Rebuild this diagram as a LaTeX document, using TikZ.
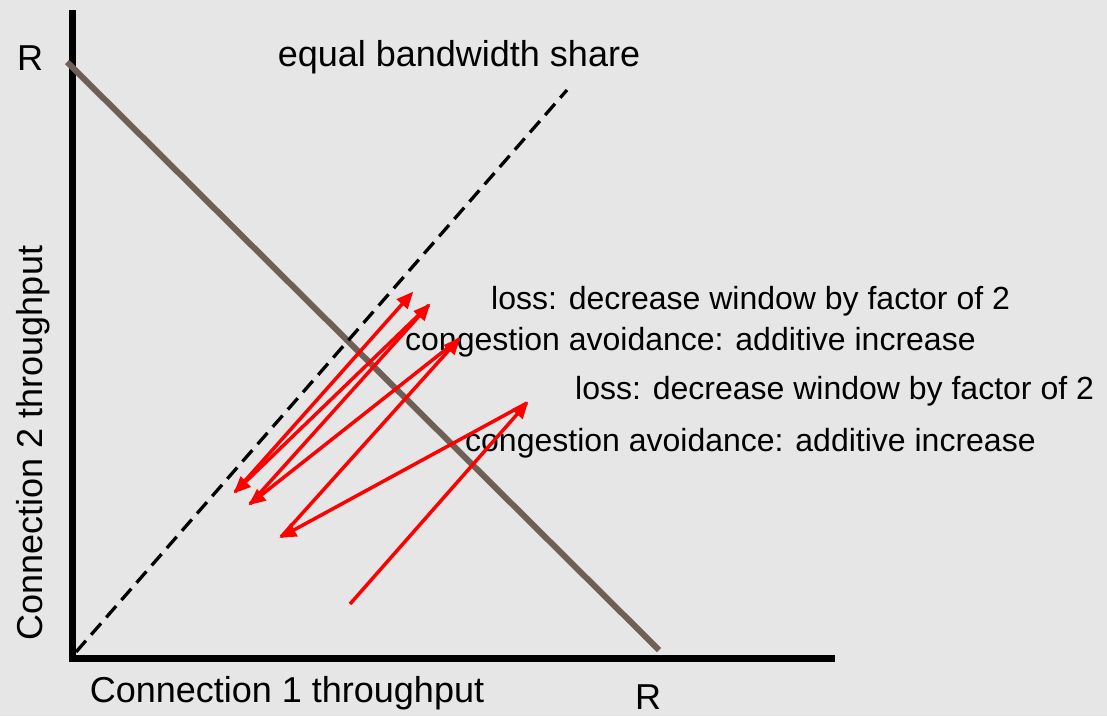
\documentclass[tikz,border=0pt]{standalone}
\usepackage{fontspec}
\setmainfont{Liberation Sans}
\usetikzlibrary{arrows.meta}
\definecolor{bgcol}{RGB}{230,230,230}
\definecolor{brownline}{RGB}{110,96,86}
\definecolor{redarrow}{RGB}{255,0,0}
\tikzset{
  lbl/.style={inner sep=0pt, font=\fontsize{32}{38}\selectfont},
  biglbl/.style={inner sep=0pt, font=\fontsize{36}{43}\selectfont},
  axisline/.style={line width=7pt, black},
  ratearrow/.style={redarrow, line width=3.5pt, -{Triangle[length=17pt,width=14pt]}, shorten >=-2pt}
}
\begin{document}
\begin{tikzpicture}[x=1pt,y=-1pt]
\fill[bgcol] (0,0) rectangle (1107,716);
\useasboundingbox (0,0) rectangle (1107,716);
% axes
\coordinate (ytop) at (72,10);
\coordinate (origin) at (72,658);
\coordinate (xend) at (835,658);
\draw[axisline] (ytop) -- (72,661.5);
\draw[axisline] (68.5,658) -- (xend);
% capacity line
\coordinate (capA) at (67,62);
\coordinate (capB) at (659,650);
\draw[brownline, line width=6pt] (capA) -- (capB);
% equal share
\coordinate (eqA) at (76,652);
\coordinate (eqB) at (567,90);
\draw[black, line width=3.3pt, dash pattern=on 15pt off 8pt] (eqA) -- (eqB);
% labels
\node[biglbl] (rY) at (30,58) {R};
\node[biglbl] (rX) at (648,697) {R};
\node[biglbl] (eqlbl) at (459,57) {equal bandwidth share};
\node[biglbl, rotate=90] (ylbl) at (33,443) {Connection 2 throughput};
\node[biglbl] (xlbl) at (287,693) {Connection 1 throughput};
\node[lbl, anchor=west] (loss1) at (491,301) {loss: decrease window by factor of 2};
\node[lbl, anchor=west] (ca1) at (405,342) {congestion avoidance: additive increase};
\node[lbl, anchor=west] (loss2) at (575,391) {loss: decrease window by factor of 2};
\node[lbl, anchor=west] (ca2) at (465,443) {congestion avoidance: additive increase};
% trajectory
\coordinate (p0) at (350,604);
\coordinate (p1) at (527,403);
\coordinate (p2) at (281,537);
\coordinate (p3) at (459,339);
\coordinate (p4) at (250,504);
\coordinate (p5) at (429,305);
\coordinate (p6) at (235,492);
\coordinate (p7) at (412,293);
\draw[ratearrow] (p0) -- (p1);
\draw[ratearrow] (p1) -- (p2);
\draw[ratearrow] (p2) -- (p3);
\draw[ratearrow] (p3) -- (p4);
\draw[ratearrow] (p4) -- (p5);
\draw[ratearrow] (p5) -- (p6);
\draw[ratearrow] (p6) -- (p7);
\end{tikzpicture}
\end{document}
